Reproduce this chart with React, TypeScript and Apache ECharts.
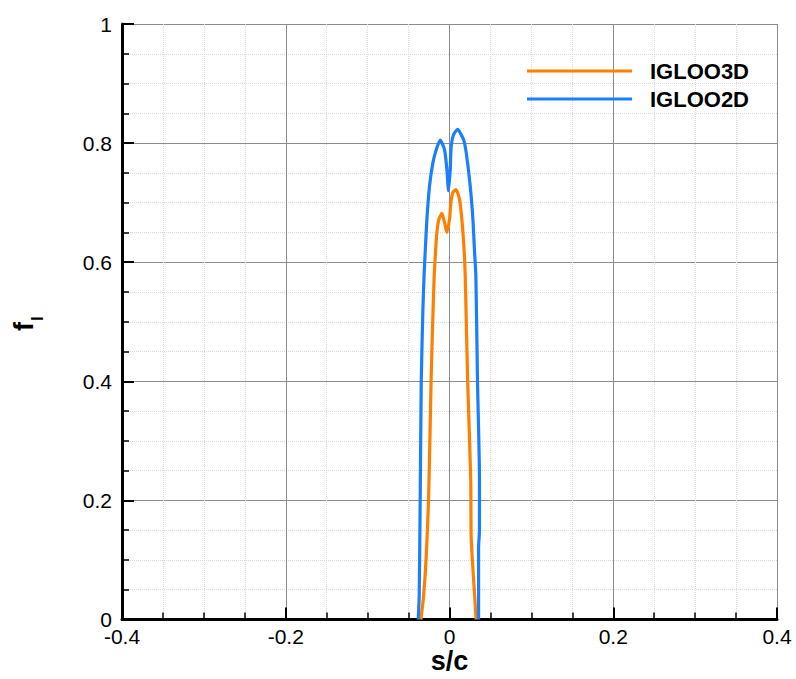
import React, { useEffect, useRef } from "react";
import * as echarts from "echarts";

const xTicks = [-0.4, -0.2, 0, 0.2, 0.4];
const yTicks = [0, 0.2, 0.4, 0.6, 0.8, 1];

const orangeName = "IGLOO3D";
const blueName = "IGLOO2D";

const orangeS = [-0.035, -0.0318, -0.0285, -0.0255, -0.0225, -0.0205, -0.0187, -0.0171, -0.0154, -0.013, -0.0093, -0.0061, -0.0032, 0, 0.0017, 0.0041, 0.0078, 0.0122, 0.0151, 0.018, 0.0192, 0.0205, 0.0222, 0.0259, 0.0265, 0.0293, 0.0325];
const orangeF = [0, 0.037, 0.104, 0.204, 0.4, 0.5, 0.577, 0.617, 0.65, 0.672, 0.682, 0.667, 0.65, 0.672, 0.7, 0.717, 0.722, 0.706, 0.672, 0.617, 0.577, 0.5, 0.4, 0.237, 0.137, 0.07, 0];

const blueS = [-0.0382, -0.037, -0.0358, -0.0345, -0.0325, -0.0309, -0.0297, -0.0276, -0.0244, -0.0203, -0.0162, -0.0114, -0.0061, -0.0032, -0.0012, 0.0009, 0.0021, 0.0049, 0.0098, 0.0171, 0.0204, 0.0253, 0.0286, 0.0306, 0.0322, 0.0342, 0.0366, 0.0366, 0.0355, 0.0355];
const blueF = [0, 0.04, 0.2, 0.4, 0.52, 0.583, 0.617, 0.672, 0.728, 0.767, 0.789, 0.805, 0.789, 0.756, 0.72, 0.756, 0.795, 0.814, 0.823, 0.806, 0.784, 0.728, 0.672, 0.617, 0.577, 0.4, 0.237, 0.15, 0.12, 0];

const FONT = "'Liberation Sans', Arial, Helvetica, sans-serif";

export default function App() {
  const ref = useRef<HTMLDivElement>(null);
  useEffect(() => {
    if (!ref.current) return;
    const chart = echarts.init(ref.current, null, { renderer: "svg" });
    const pair = (s: number[], f: number[]) => s.map((v, i) => [v, f[i]]);
    const fmt = (v: number) => String(Math.round(v * 10) / 10);
    const axisCommon = {
      type: "value" as const,
      axisLine: { show: true, onZero: false, lineStyle: { color: "#000", width: 3 } },
      axisTick: { show: true, inside: true, length: 12, lineStyle: { color: "#000", width: 2 } },
      minorTick: { show: true, splitNumber: 4, length: 7, lineStyle: { color: "#000", width: 1.5 } },
      splitLine: { show: true, lineStyle: { color: "#8c8c8c", width: 1 } },
      minorSplitLine: { show: true, lineStyle: { color: "#d8d8d8", width: 1, type: "dotted" as const } },
      axisLabel: { color: "#000", fontSize: 21, lineHeight: 16, fontFamily: FONT, margin: 10, formatter: fmt },
    };
    chart.setOption({
      animation: false,
      backgroundColor: "#fff",
      grid: { left: 122, width: 655, top: 24, height: 598, containLabel: false },
      xAxis: {
        ...axisCommon,
        min: xTicks[0],
        max: xTicks[xTicks.length - 1],
        interval: 0.2,
        axisLabel: { ...axisCommon.axisLabel, margin: 9 },
        name: "s/c",
        nameLocation: "middle",
        nameGap: 30,
        nameMoveOverlap: false,
        nameTextStyle: { color: "#000", fontSize: 27, lineHeight: 22, fontWeight: "bold", fontFamily: FONT },
      },
      yAxis: {
        ...axisCommon,
        min: yTicks[0],
        max: yTicks[yTicks.length - 1],
        interval: 0.2,
      },
      legend: {
        orient: "vertical",
        left: 527,
        top: 60,
        padding: 0,
        itemGap: 6,
        itemWidth: 105,
        itemHeight: 3,
        icon: "rect",
        data: [orangeName, blueName],
        textStyle: { color: "#000", fontSize: 22, fontWeight: "bold", fontFamily: FONT, lineHeight: 22, padding: [0, 0, 0, 13] },
      },
      graphic: [
        {
          type: "group",
          x: 24,
          y: 325,
          rotation: Math.PI / 2,
          children: [
            { type: "text", x: -6, y: 0, style: { text: "f", fill: "#000", font: `bold 27px ${FONT}`, align: "left", verticalAlign: "middle" } },
            { type: "text", x: 4, y: 13, style: { text: "l", fill: "#000", font: `bold 17px ${FONT}`, align: "left", verticalAlign: "middle" } },
          ],
        },
      ],
      series: [
        {
          name: orangeName,
          type: "line",
          data: pair(orangeS, orangeF),
          showSymbol: false,
          symbol: "none",
          smooth: 0.2,
          lineStyle: { color: "#ff7f00", width: 3.2 },
          itemStyle: { color: "#ff7f00" },
        },
        {
          name: blueName,
          type: "line",
          data: pair(blueS, blueF),
          showSymbol: false,
          symbol: "none",
          smooth: 0.2,
          lineStyle: { color: "#1a7fff", width: 3.2 },
          itemStyle: { color: "#1a7fff" },
        },
      ],
    });
    return () => chart.dispose();
  }, []);
  return <div ref={ref} style={{ position: "fixed", left: 0, top: 0, width: 796, height: 679 }} />;
}
